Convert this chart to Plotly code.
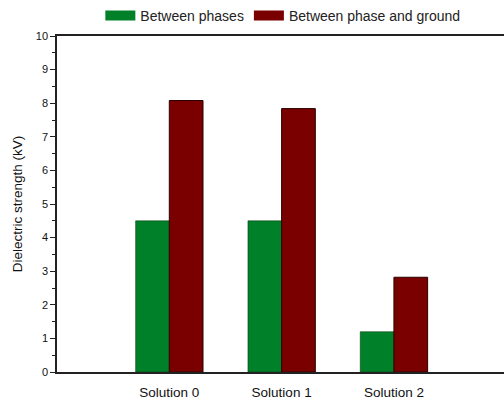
import plotly.graph_objects as go

categories = ["Solution 0", "Solution 1", "Solution 2"]
between_phases = [4.5, 4.5, 1.2]
phase_ground = [8.08, 7.84, 2.82]
series_names = ["Between phases", "Between phase and ground"]
series_colors = ["#008028", "#7a0000"]
y_ticks = list(range(0, 11))

FONT = "Liberation Sans, Arial, sans-serif"

fig = go.Figure()
fig.add_trace(go.Bar(
    x=categories, y=between_phases, name=series_names[0], showlegend=False,
    marker=dict(color=series_colors[0], line=dict(color="rgba(0,40,0,0.6)", width=0.8)),
))
fig.add_trace(go.Bar(
    x=categories, y=phase_ground, name=series_names[1], showlegend=False,
    marker=dict(color=series_colors[1], line=dict(color="#2a0000", width=1)),
))
# legend entries with wide rectangular swatches
for name, col in zip(series_names, series_colors):
    fig.add_trace(go.Scatter(
        x=[None], y=[None], mode="lines", name=name,
        line=dict(color=col, width=12),
    ))

fig.update_layout(
    width=504, height=402,
    margin=dict(l=57, r=0, t=36, b=30, autoexpand=False),
    paper_bgcolor="white", plot_bgcolor="white",
    barmode="group", bargap=0.4, bargroupgap=0,
    font=dict(family=FONT, size=12, color="#111111"),
    showlegend=True,
    legend=dict(orientation="h", x=0.097, xanchor="left", y=1.06, yanchor="middle",
                font=dict(size=14, color="#222222"), traceorder="normal",
                bgcolor="rgba(0,0,0,0)", itemclick=False, itemwidth=30),
    xaxis=dict(
        range=[-1, 2.98], showline=True, linecolor="#222222", linewidth=1.5,
        mirror=True, ticks="", showgrid=False, zeroline=False,
        tickfont=dict(size=13.5, family=FONT, color="#111111"), ticklabelstandoff=7,
    ),
    yaxis=dict(
        range=[0, 10], tickvals=y_ticks, showline=True, linecolor="#222222", linewidth=1.5,
        ticks="outside", ticklen=5, tickwidth=1, tickcolor="#222222",
        minor=dict(ticks="outside", ticklen=3, tickwidth=1, tickcolor="#222222", dtick=0.5),
        showgrid=False, zeroline=False, tickfont=dict(size=11, family=FONT, color="#111111"),
        title=dict(text="Dielectric strength (kV)", font=dict(size=13.5, family=FONT), standoff=10),
    ),
)

fig.write_html("out.html", config={"displayModeBar": False},
               post_script="document.body.style.margin='0';document.body.style.overflow='hidden';")
